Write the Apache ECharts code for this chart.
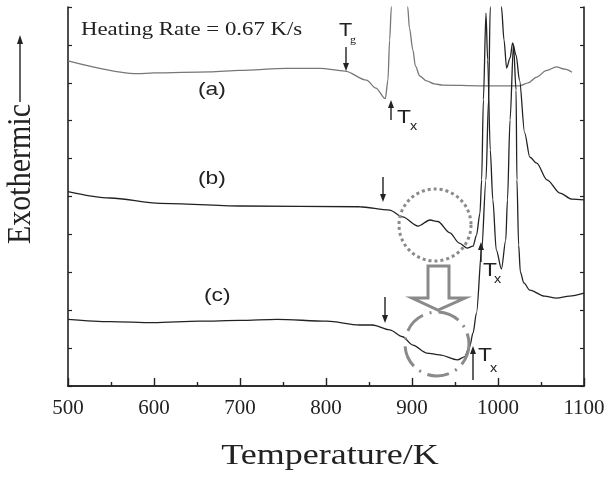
<!DOCTYPE html>
<html>
<head>
<meta charset="utf-8">
<script src="https://cdn.jsdelivr.net/npm/echarts@6/dist/echarts.min.js"></script>
<style>
  html, body { margin: 0; padding: 0; background: #fff; }
  #chart { width: 605px; height: 481px; }
</style>
</head>
<body>
<div id="chart"></div>
<script>
// temperature (K) and signal (arb. units, axis 0..10)
var tempA = [500, 581, 600, 665, 700, 754, 793, 822, 847, 858, 869, 872, 874, 876, 885, 895, 897, 901, 904, 909, 917, 926, 936, 979, 1025, 1035, 1045, 1056, 1068, 1078, 1086];
var sigA  = [8.58, 8.24, 8.26, 8.29, 8.33, 8.38, 8.38, 8.31, 8.07, 7.86, 7.58, 8.07, 9.13, 10.0, 14.0, 10.0, 9.45, 8.87, 8.44, 8.18, 8.05, 7.97, 7.94, 7.92, 7.92, 8.0, 8.15, 8.32, 8.42, 8.36, 8.28];

var tempB = [500, 549, 607, 700, 839, 874, 889, 907, 921, 930, 944, 955, 964, 971, 975, 979, 981, 983, 986, 988, 991, 994, 998, 1004, 1009, 1011, 1014, 1018, 1021, 1022, 1024, 1026, 1030, 1037, 1054, 1068, 1083, 1100];
var sigB  = [5.13, 4.96, 4.82, 4.75, 4.73, 4.64, 4.46, 4.22, 4.38, 4.34, 4.04, 3.77, 3.64, 3.69, 3.98, 4.56, 5.44, 7.55, 9.84, 8.60, 6.23, 4.91, 3.59, 3.09, 3.85, 4.91, 7.02, 9.0, 7.81, 5.44, 3.72, 3.01, 2.72, 2.53, 2.37, 2.32, 2.37, 2.45];

var tempC = [500, 549, 599, 653, 700, 743, 801, 839, 854, 874, 889, 901, 917, 932, 953, 961, 967, 971, 975, 981, 986, 989, 991, 997, 1004, 1007, 1010, 1014, 1017, 1021, 1025, 1031, 1037, 1045, 1057, 1072, 1086, 1100];
var sigC  = [1.76, 1.70, 1.67, 1.71, 1.73, 1.76, 1.71, 1.61, 1.61, 1.48, 1.30, 1.08, 0.87, 0.82, 0.69, 0.77, 1.04, 1.40, 1.93, 3.59, 5.44, 7.55, 10.0, 14.0, 10.0, 9.13, 8.39, 8.65, 9.05, 8.73, 8.07, 6.68, 6.04, 5.88, 5.44, 5.09, 4.93, 4.91];

var xTicks = [500, 600, 700, 800, 900, 1000, 1100];

function pairs(xs, ys) {
  return xs.map(function (x, i) { return [x, ys[i]]; });
}

var serif = '"Liberation Serif", "Times New Roman", serif';
var sans = '"Liberation Sans", Arial, sans-serif';
var axisCol = '#222';
var stretch = 1.2; // the source figure is a little wider than tall

function arrow(x, y1, y2, col) {
  // vertical arrow from y1 to tip at y2
  var dir = y2 > y1 ? 1 : -1;
  return [
    { type: 'line', shape: { x1: x, y1: y1, x2: x, y2: y2 - dir * 6 }, style: { stroke: col, lineWidth: 1.4 }, z: 100 },
    { type: 'polygon', shape: { points: [[x - 3, y2 - dir * 8], [x + 3, y2 - dir * 8], [x, y2]] }, style: { fill: col }, z: 100 }
  ];
}

function txt(x, y, s, size, font, align) {
  return { type: 'text', x: x, y: y, scaleX: stretch,
    style: { text: s, fontSize: size, fontFamily: font, fill: '#222', textAlign: align || 'left', textVerticalAlign: 'top' }, z: 100 };
}

var chart = echarts.init(document.getElementById('chart'));

var graphics = [
  txt(81, 21, 'Heating Rate = 0.67 K/s', 19, serif),
  txt(339, 22, 'T', 18, sans),
  txt(350, 35, 'g', 10, serif),
  txt(397, 108, 'T', 19, sans),
  txt(410, 121, 'x', 12, sans),
  txt(483, 261, 'T', 19, sans),
  txt(494, 274, 'x', 12, sans),
  txt(478, 346, 'T', 19, sans),
  txt(490, 363, 'x', 12, sans),
  txt(198, 80, '(a)', 19, sans),
  txt(198, 169, '(b)', 19, sans),
  txt(204, 286, '(c)', 19, sans),
  // axis titles
  txt(330, 441, 'Temperature/K', 30, serif, 'center'),
  { type: 'text', x: 21, y: 174, rotation: Math.PI / 2, scaleY: 1.1,
    style: { text: 'Exothermic', fontSize: 30, fontFamily: serif, fill: '#222', textAlign: 'center', textVerticalAlign: 'middle' }, z: 100 },
  // dotted circle around the (b) glass transition
  { type: 'circle', shape: { cx: 435, cy: 225, r: 36 }, style: { fill: 'none', stroke: '#8a8a8a', lineWidth: 3, lineDash: [3, 3] }, z: 90 },
  // dash-dot circle around the (c) glass transition
  { type: 'circle', shape: { cx: 437, cy: 344, r: 32 }, style: { fill: 'none', stroke: '#8a8a8a', lineWidth: 3, lineDash: [22, 7, 2, 7] }, z: 90 },
  // hollow block arrow
  { type: 'polygon', shape: { points: [[428, 266], [449, 266], [449, 298], [465, 298], [438, 310], [412, 298], [428, 298]] }, style: { fill: '#fff', stroke: '#8a8a8a', lineWidth: 3 }, z: 95 },
  // Exothermic arrow
  { type: 'line', shape: { x1: 20, y1: 102, x2: 20, y2: 42 }, style: { stroke: '#222', lineWidth: 1.4 }, z: 100 },
  { type: 'polygon', shape: { points: [[17, 44], [23, 44], [20, 35]] }, style: { fill: '#222' }, z: 100 }
].concat(arrow(346, 47, 71, '#222'))
 .concat(arrow(391, 120, 100, '#222'))
 .concat(arrow(383, 177, 202, '#222'))
 .concat(arrow(385, 297, 323, '#222'))
 .concat(arrow(481, 262, 242, '#222'))
 .concat(arrow(473, 380, 346, '#222'));

var option = {
  animation: false,
  backgroundColor: '#fff',
  grid: { left: 68, right: 21, top: 7, bottom: 95, containLabel: false, outerBoundsMode: 'none' },
  xAxis: [{
    type: 'value', min: 500, max: 1100, interval: 100,
    axisLine: { lineStyle: { color: axisCol, width: 1.6 } },
    axisTick: { inside: true, length: 8, lineStyle: { color: axisCol, width: 1.4 } },
    minorTick: { show: true, splitNumber: 2, length: 4, lineStyle: { color: axisCol, width: 1.4 } },
    axisLabel: { fontFamily: serif, fontSize: 21, color: '#222', margin: 12,
      formatter: function (v) { return xTicks.indexOf(v) >= 0 ? String(v) : ''; } },
    splitLine: { show: false }
  }, {
    type: 'value', min: 500, max: 1100, position: 'top',
    axisLine: { show: true, lineStyle: { color: axisCol, width: 1.6 } },
    axisTick: { show: false }, axisLabel: { show: false }, splitLine: { show: false }
  }],
  yAxis: [{
    type: 'value', min: 0, max: 10, interval: 1,
    axisLine: { show: true, lineStyle: { color: axisCol, width: 1.6 } },
    axisTick: { inside: true, length: 4, lineStyle: { color: axisCol, width: 1.2 } },
    axisLabel: { show: false }, splitLine: { show: false }
  }, {
    type: 'value', min: 0, max: 10, interval: 1, position: 'right',
    axisLine: { show: true, lineStyle: { color: axisCol, width: 1.6 } },
    axisTick: { inside: true, length: 4, lineStyle: { color: axisCol, width: 1.2 } },
    axisLabel: { show: false }, splitLine: { show: false }
  }],
  series: [
    { name: '(a)', type: 'line', data: pairs(tempA, sigA), showSymbol: false, smooth: 0.3, smoothMonotone: 'x',
      lineStyle: { color: '#777', width: 1.3 }, clip: true },
    { name: '(b)', type: 'line', data: pairs(tempB, sigB), showSymbol: false, smooth: 0.3, smoothMonotone: 'x',
      lineStyle: { color: '#222', width: 1.3 }, clip: true },
    { name: '(c)', type: 'line', data: pairs(tempC, sigC), showSymbol: false, smooth: 0.3, smoothMonotone: 'x',
      lineStyle: { color: '#222', width: 1.3 }, clip: true }
  ],
  graphic: graphics
};

chart.setOption(option);
</script>
</body>
</html>
